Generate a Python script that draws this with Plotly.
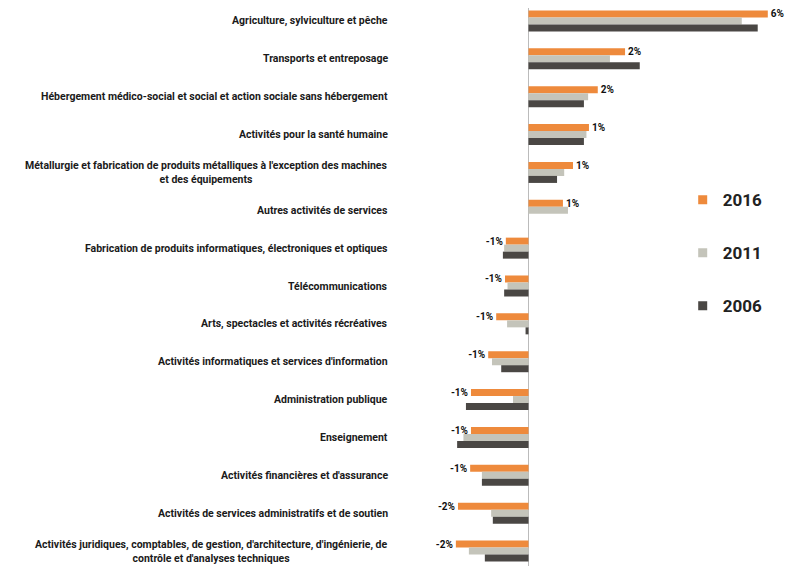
import plotly.graph_objects as go

categories = [
    "Agriculture, sylviculture et pêche",
    "Transports et entreposage",
    "Hébergement médico-social et social et action sociale sans hébergement",
    "Activités pour la santé humaine",
    "Métallurgie et fabrication de produits métalliques à l'exception des machines<br>et des équipements",
    "Autres activités de services",
    "Fabrication de produits informatiques, électroniques et optiques",
    "Télécommunications",
    "Arts, spectacles et activités récréatives",
    "Activités informatiques et services d'information",
    "Administration publique",
    "Enseignement",
    "Activités financières et d'assurance",
    "Activités de services administratifs et de soutien",
    "Activités juridiques, comptables, de gestion, d'architecture, d'ingénierie, de<br>contrôle et d'analyses techniques",
]

v2016 = [5.70, 2.30, 1.65, 1.44, 1.06, 0.82, -0.54, -0.56, -0.77, -0.96, -1.37, -1.37, -1.39, -1.68, -1.73]
v2011 = [5.08, 1.94, 1.42, 1.38, 0.85, 0.94, -0.58, -0.50, -0.51, -0.87, -0.37, -1.55, -1.11, -0.89, -1.42]
v2006 = [5.46, 2.65, 1.32, 1.32, 0.68, 0.00, -0.61, -0.58, -0.07, -0.65, -1.49, -1.70, -1.11, -0.85, -1.04]

labels2016 = ["6%", "2%", "2%", "1%", "1%", "1%", "-1%", "-1%", "-1%", "-1%", "-1%", "-1%", "-1%", "-2%", "-2%"]

series_names = ["2016", "2011", "2006"]
colors = ["#EE8A3C", "#C4C4BA", "#4A4744"]

fig = go.Figure()

for name, vals, col in zip(series_names, [v2016, v2011, v2006], colors):
    fig.add_trace(go.Bar(
        x=vals, y=categories, orientation="h", name=name,
        marker=dict(color=col, line=dict(width=0)),
        text=labels2016 if name == "2016" else None,
        textposition="outside" if name == "2016" else "none",
        textfont=dict(family="Roboto", size=10, color="#111111", weight="bold"),
        constraintext="none",
        cliponaxis=False,
        showlegend=False,
    ))

# legend entries with small square markers
for name, col in zip(series_names, colors):
    fig.add_trace(go.Scatter(
        x=[None], y=[None], mode="markers", name=name, legendgroup=name,
        marker=dict(symbol="square", size=9, color=col),
    ))

for cat in categories:
    fig.add_annotation(
        x=0, xref="paper", y=cat, yref="y", xanchor="right", xshift=-5,
        text=cat, showarrow=False, align="center",
        font=dict(family="Roboto", size=10.5, color="#1a1a1a", weight="bold"),
    )

fig.update_layout(
    width=798, height=558,
    margin=dict(l=387, r=0, t=0, b=0),
    paper_bgcolor="white", plot_bgcolor="white",
    barmode="group", bargap=0.445, bargroupgap=0,
    showlegend=True,
    legend=dict(x=0.70, y=0.688, xanchor="left", yanchor="top",
                font=dict(family="Roboto", size=17, color="#222222", weight="bold"),
                tracegroupgap=28, bgcolor="rgba(0,0,0,0)", itemwidth=30),
    xaxis=dict(range=[-3.18, 6.61], showgrid=False, showticklabels=False,
               zeroline=True, zerolinecolor="#BBBBBB", zerolinewidth=1, ticks=""),
    yaxis=dict(type="category", categoryorder="array", categoryarray=categories,
               range=[14.396, -0.343], showticklabels=False, showgrid=False,
               zeroline=False, ticks=""),
)

fig.write_html("out.html")
